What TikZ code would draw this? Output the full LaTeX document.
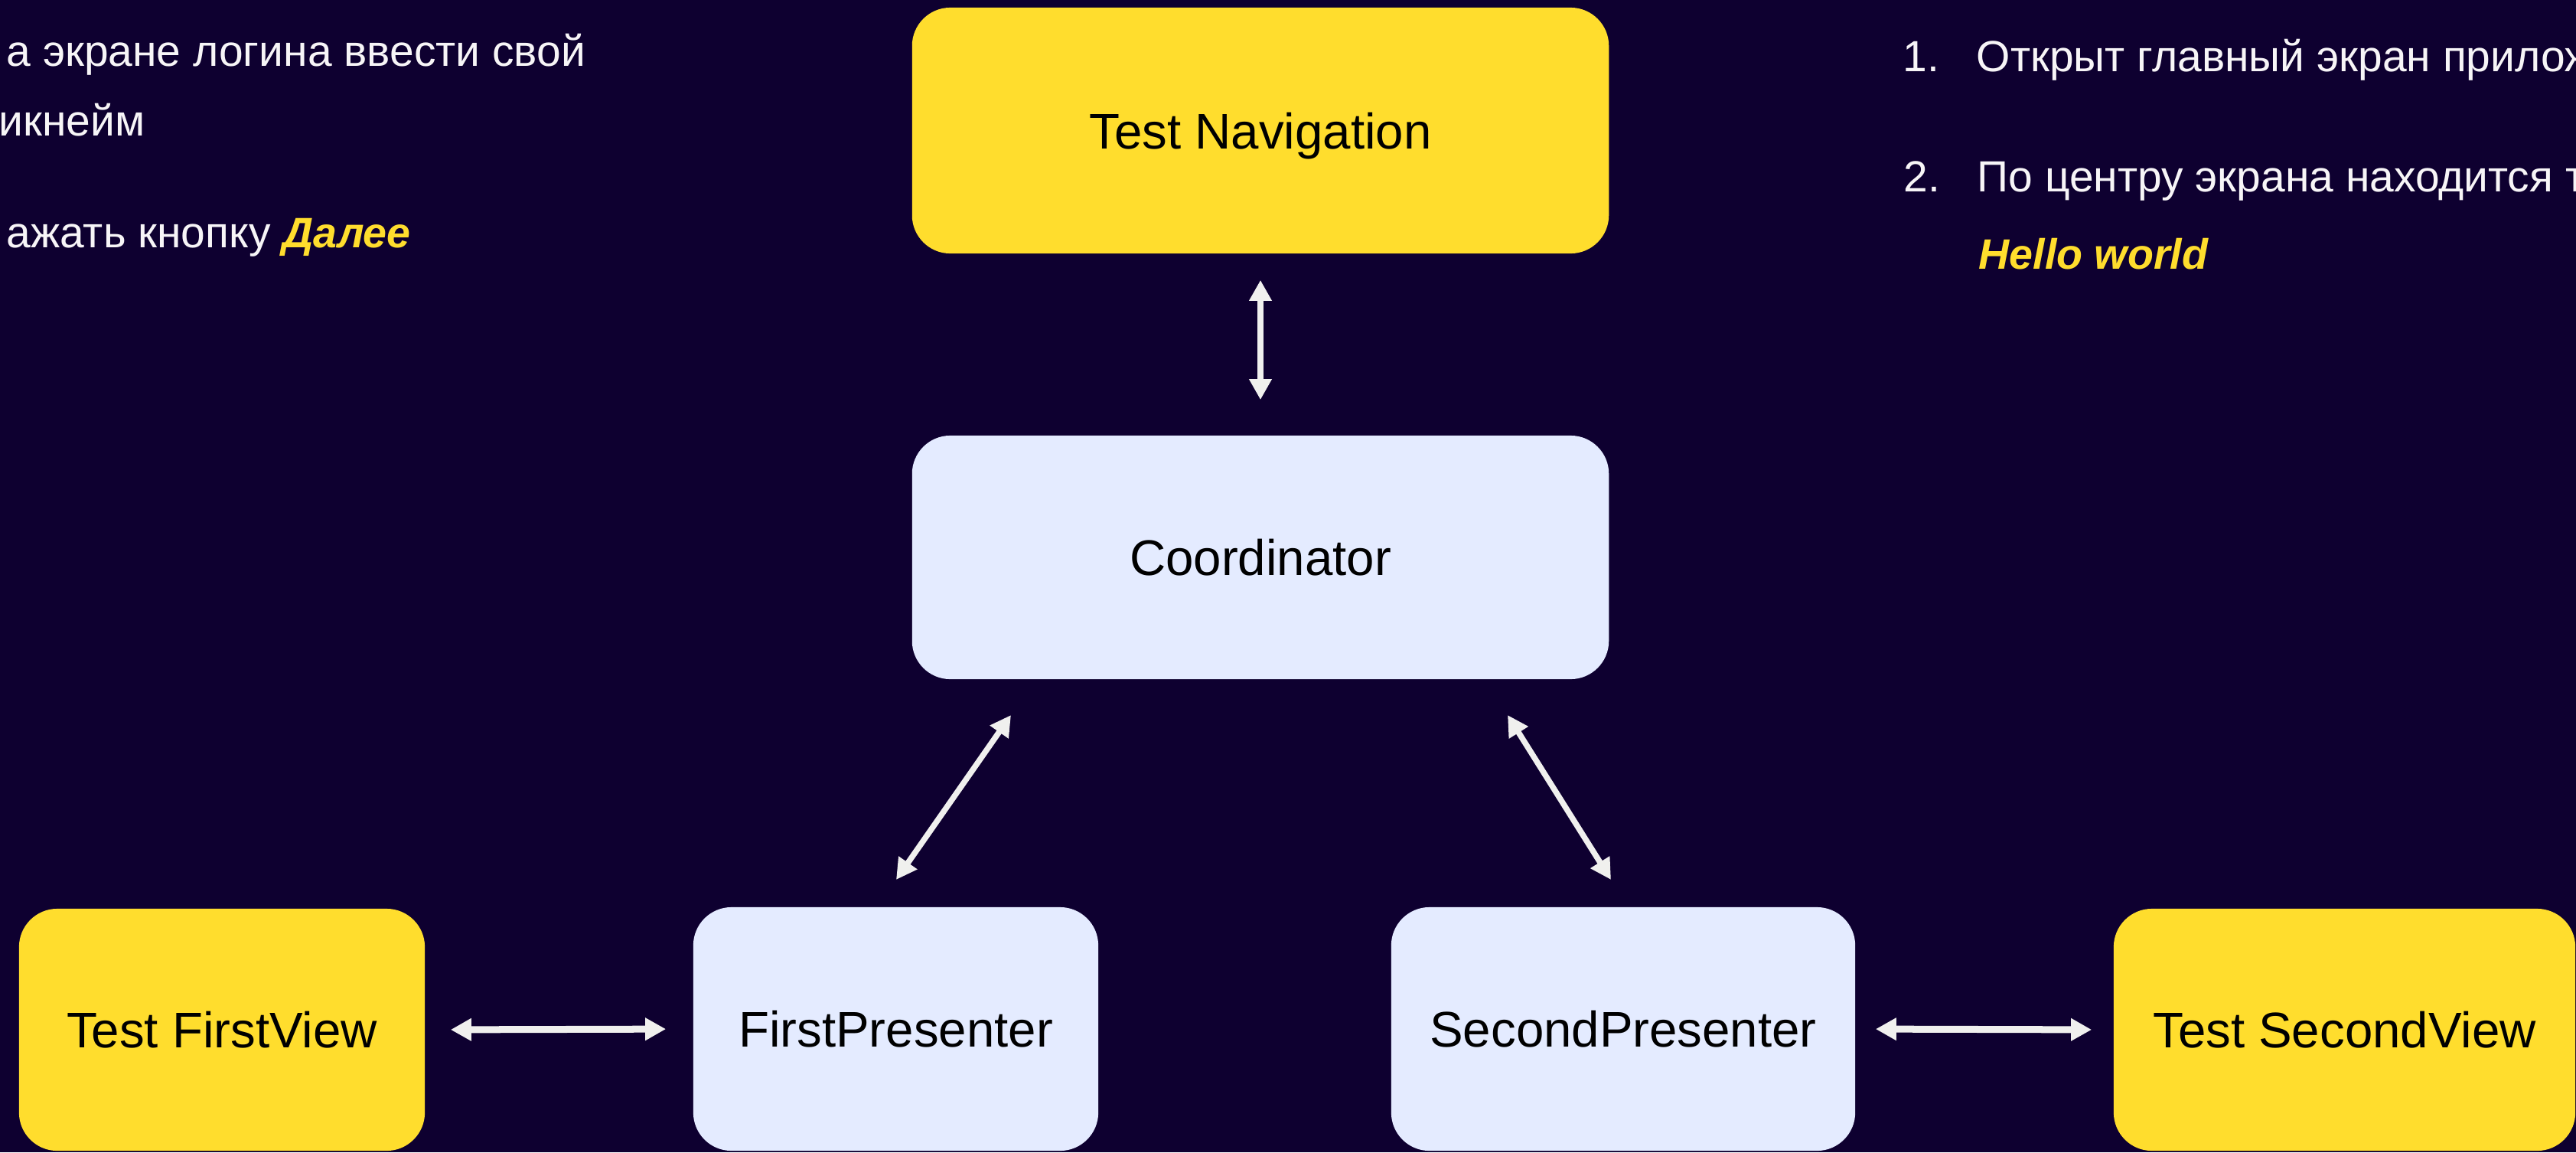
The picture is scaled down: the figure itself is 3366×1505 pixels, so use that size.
\documentclass[tikz,border=0pt]{standalone}
\usepackage{fontspec}
\setmainfont{Liberation Sans}
\usetikzlibrary{arrows.meta,calc}
\definecolor{bgc}{HTML}{0E0030}
\definecolor{ylw}{HTML}{FFDD2D}
\definecolor{lite}{HTML}{E4EBFF}
\definecolor{arr}{HTML}{F0F0EE}
\definecolor{txt}{HTML}{F7F5F7}
\begin{document}
\begin{tikzpicture}[x=0.01cm,y=-0.01cm,
  box/.style={rounded corners=0.5cm, inner sep=0, text=black, text height=0.47cm, text depth=0cm, font=\fontsize{18.6}{22}\selectfont},
  ybox/.style={box, fill=ylw},
  lbox/.style={box, fill=lite},
  biarrow/.style={draw=arr, line width=0.085cm, {Triangle[length=0.27cm,width=0.28cm]}-{Triangle[length=0.27cm,width=0.28cm]}},
  side/.style={anchor=base west, inner sep=0, text=txt, font=\fontsize{16.2}{20}\selectfont},
  hl/.style={text=ylw, font=\bfseries\itshape\fontsize{15.8}{20}\selectfont}
]
\clip (0,0) rectangle (3366,1505);
\fill[bgc] (0,0) rectangle (3366,1505);

% boxes
\node[ybox, minimum width=9.1cm, minimum height=3.21cm] (nav) at (1647,170.5) {Test Navigation};
\node[lbox, minimum width=9.1cm, minimum height=3.18cm] (coord) at (1647,728) {Coordinator};
\node[ybox, minimum width=5.3cm, minimum height=3.16cm] (fv) at (290,1345) {Test FirstView};
\node[lbox, minimum width=5.29cm, minimum height=3.18cm] (fp) at (1170.5,1344) {FirstPresenter};
\node[lbox, minimum width=6.06cm, minimum height=3.18cm] (sp) at (2121,1344) {SecondPresenter};
\node[ybox, minimum width=6.03cm, minimum height=3.16cm] (sv) at (3063.5,1345) {Test SecondView};

% connectors
\draw[biarrow, shorten <=0.34cm, shorten >=0.46cm] (nav.south) -- (coord.north);
\coordinate (dl1) at (1321,934);
\coordinate (dl2) at (1171,1149);
\coordinate (dr1) at (1970,934);
\coordinate (dr2) at (2105,1149);
\draw[biarrow, line width=0.075cm] (dl1) -- (dl2);
\draw[biarrow, line width=0.075cm] (dr1) -- (dr2);
\draw[biarrow, line width=0.09cm, shorten <=0.33cm, shorten >=0.35cm] (fv.east) -- (fp.west);
\draw[biarrow, line width=0.09cm, shorten <=0.26cm, shorten >=0.28cm] (sp.east) -- (sv.west);

% left text
\node[side] (l1) at (8,86) {а экране логина ввести свой};
\node[side] (l2) at (-2,177) {икнейм};
\node[side] (l3) at (8,323) {ажать кнопку {\bfseries\itshape\fontsize{15.8}{20}\selectfont\color{ylw}Далее}};

% right text
\node[side] (n1) at (2486,93) {1.};
\node[side] (r1) at (2582,93) {Открыт главный экран прилож};
\node[side] (n2) at (2487,250) {2.};
\node[side] (r2) at (2583,250) {По центру экрана находится т};
\node[side, hl] (r3) at (2585,351) {Hello world};
\end{tikzpicture}
\end{document}
